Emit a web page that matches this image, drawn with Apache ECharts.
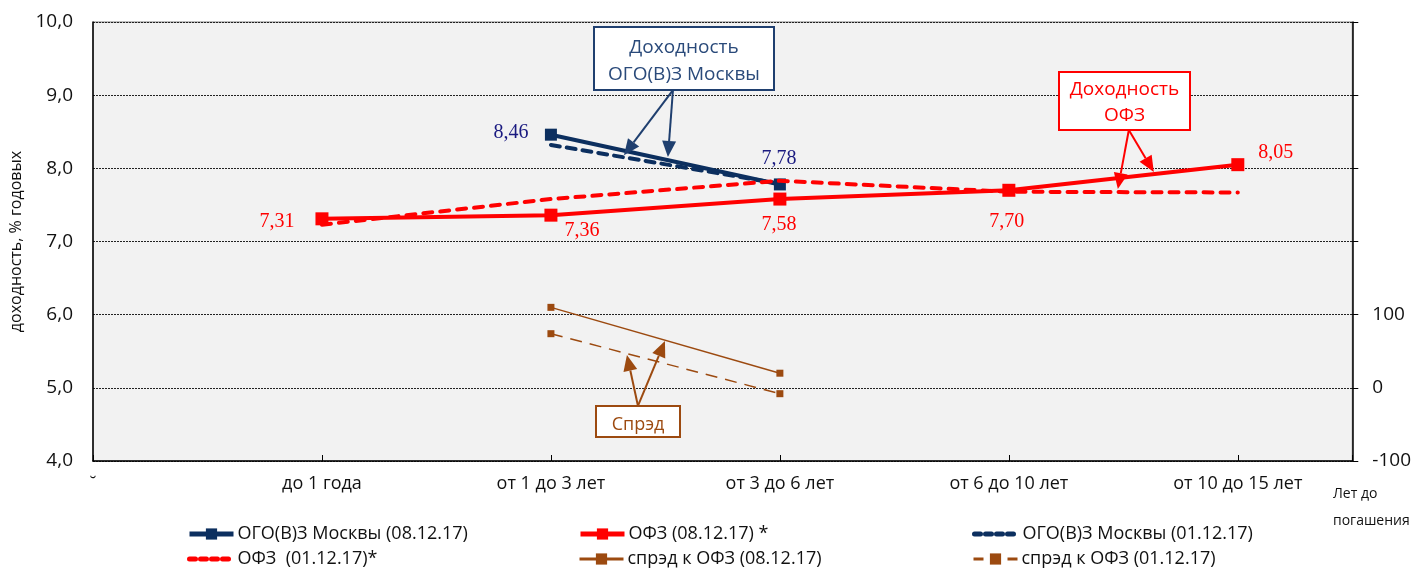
<!DOCTYPE html>
<html>
<head>
<meta charset="utf-8">
<script src="https://cdn.jsdelivr.net/npm/echarts@6/dist/echarts.min.js"></script>
<style>
html,body{margin:0;padding:0;background:#fff;}
#chart{width:1414px;height:569px;}
</style>
</head>
<body>
<div id="chart"></div>
<script>
// ---- data ----
const categories = ['до 1 года', 'от 1 до 3 лет', 'от 3 до 6 лет', 'от 6 до 10 лет', 'от 10 до 15 лет'];
const moscow0812 = [null, 8.46, 7.78, null, null];
const ofz0812 = [7.31, 7.36, 7.58, 7.70, 8.05];
const moscow0112 = [null, 8.32, 7.79, null, null];
const ofz0112 = [7.23, 7.58, 7.83, 7.68, 7.67];
const spread0812 = [null, 110, 20, null, null];
const spread0112 = [null, 74, -8, null, null];
const leftTicks = [4, 5, 6, 7, 8, 9, 10];
const rightTicks = [-100, 0, 100];
const seriesNames = ['ОГО(В)З Москвы (08.12.17)', 'ОФЗ (08.12.17) *', 'ОГО(В)З Москвы (01.12.17)',
  'ОФЗ  (01.12.17)*', 'спрэд к ОФЗ (08.12.17)', 'спрэд к ОФЗ (01.12.17)'];

const NAVY = '#0C2F5F', RED = '#FF0000', BROWN = '#9C4A10';
const FONT = 'Open Sans';
const fmt2 = v => v.toFixed(2).replace('.', ',');

function toPts(arr, labelOffsets) {
  const out = [];
  arr.forEach((v, i) => {
    if (v == null) return;
    const item = { value: [i + 1, v] };
    if (labelOffsets && labelOffsets[i]) item.label = { show: true, position: 'inside', offset: labelOffsets[i] };
    out.push(item);
  });
  return out;
}

const serifLabel = { fontFamily: 'Liberation Serif', fontSize: 20 };

const chart = echarts.init(document.getElementById('chart'));
const option = {
  animation: false,
  backgroundColor: '#ffffff',
  grid: { left: 92, right: 60, top: 22, bottom: 108, show: true, backgroundColor: '#F2F2F2', borderColor: '#7f7f7f', borderWidth: 1 },
  xAxis: {
    type: 'value', min: 0, max: 5.5, interval: 1,
    axisLine: { show: true, onZero: false, lineStyle: { color: '#000', width: 1.5 } },
    axisTick: { show: true, inside: true, length: 6, lineStyle: { color: '#000' } },
    splitLine: { show: false },
    axisLabel: {
      margin: 14, fontFamily: FONT, fontSize: 18, color: '#111',
      formatter: v => (Number.isInteger(v) ? (v === 0 ? '˘' : (categories[v - 1] || '')) : '')
    }
  },
  yAxis: [{
    type: 'value', min: 4, max: 10, interval: 1, position: 'left',
    name: 'доходность, % годовых', nameLocation: 'middle', nameRotate: 90, nameGap: 69,
    nameTextStyle: { fontFamily: FONT, fontSize: 16, color: '#111' },
    axisLine: { show: true, lineStyle: { color: '#000', width: 1.5 } },
    axisTick: { show: false },
    splitLine: { show: true, lineStyle: { color: '#222', type: [2, 1], width: 1 } },
    axisLabel: { fontFamily: FONT, fontSize: 19, color: '#111', margin: 20,
      formatter: v => (leftTicks.includes(v) ? v.toFixed(1).replace('.', ',') : '') }
  }, {
    type: 'value', min: -100, max: 500, interval: 100, position: 'right',
    axisLine: { show: true, lineStyle: { color: '#000', width: 1.5 } },
    axisTick: { show: true, inside: false, length: 6, lineStyle: { color: '#000' } },
    splitLine: { show: false },
    axisLabel: { fontFamily: FONT, fontSize: 19, color: '#111', margin: 20,
      formatter: v => (rightTicks.includes(v) ? String(v) : '') }
  }],
  legend: [],
  series: [
    { name: seriesNames[2], type: 'line', z: 2, data: toPts(moscow0112), symbol: 'none',
      lineStyle: { color: NAVY, width: 4, type: [9, 7], cap: 'round' }, itemStyle: { color: NAVY } },
    { name: seriesNames[0], type: 'line', z: 3, data: toPts(moscow0812, [null, [-40, -2], [-1, -26]]),
      symbol: 'rect', symbolSize: 12, lineStyle: { color: NAVY, width: 4 }, itemStyle: { color: NAVY },
      label: Object.assign({ color: '#1A1A80', formatter: p => fmt2(p.value[1]) }, serifLabel) },
    { name: seriesNames[3], type: 'line', z: 4, data: toPts(ofz0112), symbol: 'none',
      lineStyle: { color: RED, width: 4, type: [9, 8], cap: 'round' }, itemStyle: { color: RED } },
    { name: seriesNames[1], type: 'line', z: 5, data: toPts(ofz0812, [[-45, 3], [31, 16], [-1, 26], [-2, 31], [38, -12]]),
      symbol: 'rect', symbolSize: 13, lineStyle: { color: RED, width: 4 }, itemStyle: { color: RED },
      label: Object.assign({ color: RED, formatter: p => fmt2(p.value[1]) }, serifLabel) },
    { name: seriesNames[4], type: 'line', z: 3, yAxisIndex: 1, data: toPts(spread0812), symbol: 'rect', symbolSize: 7,
      lineStyle: { color: BROWN, width: 1.5 }, itemStyle: { color: BROWN } },
    { name: seriesNames[5], type: 'line', z: 3, yAxisIndex: 1, data: toPts(spread0112), symbol: 'rect', symbolSize: 7,
      lineStyle: { color: BROWN, width: 1.5, type: [12, 8] }, itemStyle: { color: BROWN } }
  ]
};

// legends: 3 columns x 2 rows
const legendPos = [[187, 525], [578, 525], [972, 525], [187, 550], [578, 550], [972, 550]];
const legendLine = [
  { width: 5 }, { width: 5 }, { width: 5, type: [6, 5], cap: 'round' },
  { width: 5, type: [6, 5], cap: 'round' }, { width: 3 }, { width: 3, type: [10, 7] }
];
const noSymbol = [false, false, true, true, false, false];
seriesNames.forEach((n, i) => {
  const item = { name: n };
  if (noSymbol[i]) item.itemStyle = { opacity: 0 };
  option.legend.push({
    data: [item], left: legendPos[i][0], top: legendPos[i][1], padding: 0, itemWidth: 44, itemHeight: 14, itemGap: 4,
    lineStyle: legendLine[i],
    textStyle: { fontFamily: FONT, fontSize: 18, color: '#111', padding: [0, 0, 0, -1] }, selectedMode: false
  });
});

chart.setOption(option);

// annotations: boxes and arrows (arrow tips placed through the axes' scales)
function px(x, y, yAxisIndex) {
  return chart.convertToPixel({ xAxisIndex: 0, yAxisIndex: yAxisIndex || 0 }, [x, y]);
}
function arrow(from, to, color, w) {
  const dx = to[0] - from[0], dy = to[1] - from[1];
  const L = Math.sqrt(dx * dx + dy * dy), ux = dx / L, uy = dy / L;
  const hl = 16, hw = 7;
  const bx = to[0] - ux * hl, by = to[1] - uy * hl;
  return [
    { type: 'line', shape: { x1: from[0], y1: from[1], x2: bx, y2: by }, style: { stroke: color, lineWidth: w || 2 }, z: 100 },
    { type: 'polygon', shape: { points: [to, [bx - uy * hw, by + ux * hw], [bx + uy * hw, by - ux * hw]] }, style: { fill: color }, z: 100 }
  ];
}
function box(x, y, w, h, color, text, fontSize, lh, dy) {
  return [
    { type: 'rect', shape: { x: x, y: y, width: w, height: h }, style: { fill: '#fff', stroke: color, lineWidth: 2 }, z: 101 },
    { type: 'text', x: x + w / 2, y: y + h / 2 + (dy || 0), style: { text: text, font: fontSize + 'px "' + FONT + '"', fill: color, align: 'center', verticalAlign: 'middle', lineHeight: lh }, z: 102 }
  ];
}
let extra = [];
// Moscow yield callout
const bFrom = px(2.533, 9.07);
extra = extra.concat(arrow(bFrom, px(2.319, 8.18), '#1F3F6F', 2), arrow(bFrom, px(2.511, 8.155), '#1F3F6F', 2));
extra = extra.concat(box(594, 27, 180, 63, '#1F3F6F', 'Доходность\nОГО(В)З Москвы', 19, 27, 3));
extra[extra.length - 1].style.fill = '#2A4A7A';
// OFZ callout
const rFrom = px(4.524, 8.524);
extra = extra.concat(arrow(rFrom, px(4.633, 7.95), RED, 2), arrow(rFrom, px(4.476, 7.717), RED, 2));
extra = extra.concat(box(1059, 72, 131, 58, RED, 'Доходность\nОФЗ', 19, 26, 2));
// Spread callout
const sFrom = px(2.38, -24.6, 1);
extra = extra.concat(arrow(sFrom, px(2.332, 45, 1), BROWN, 2), arrow(sFrom, px(2.498, 64, 1), BROWN, 2));
extra = extra.concat(box(596, 406, 84, 31, BROWN, 'Спрэд', 18, 20, 3));

chart.setOption({ graphic: [{ type: 'group', children: [
  { type: 'text', left: 1333, top: 481, style: { text: 'Лет до\nпогашения', font: '14px "' + FONT + '"', fill: '#111', lineHeight: 27 } }
] }, { type: 'group', children: extra }] });
</script>
</body>
</html>
